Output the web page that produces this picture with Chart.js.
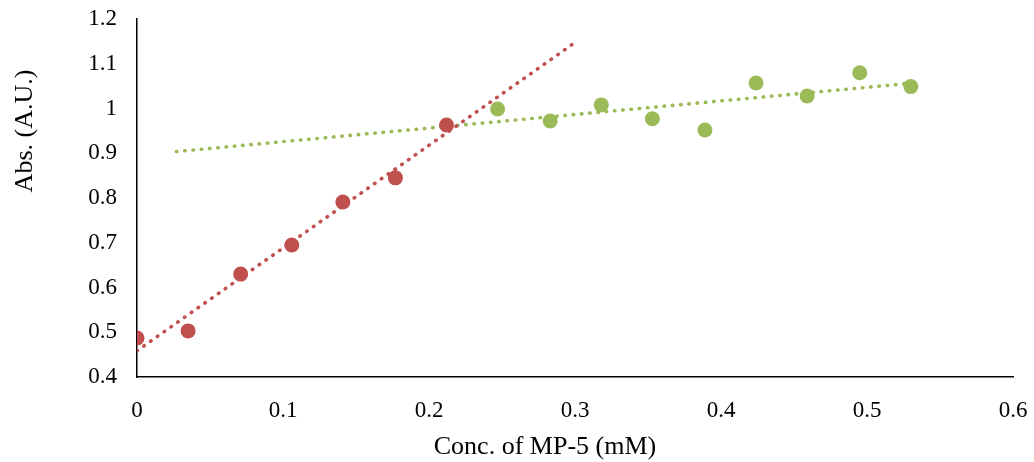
<!DOCTYPE html>
<html>
<head>
<meta charset="utf-8">
<script src="https://cdn.jsdelivr.net/npm/chart.js@4.4.1/dist/chart.umd.min.js"></script>
<style>
  html, body { margin: 0; padding: 0; background: #fff; }
</style>
</head>
<body>
<canvas id="chart" width="1034" height="462"></canvas>
<script>
// MP-5 titration: absorbance before and after the break point
const concBefore = [0, 0.035, 0.071, 0.106, 0.141, 0.177, 0.212];
const absBefore = [0.487, 0.503, 0.630, 0.695, 0.791, 0.845, 0.963];
const concAfter = [0.247, 0.283, 0.318, 0.353, 0.389, 0.424, 0.459, 0.495, 0.530];
const absAfter = [0.999, 0.972, 1.008, 0.977, 0.952, 1.057, 1.028, 1.080, 1.049];

// x range each trendline is drawn over (with forecast)
const fitRangeBefore = [0, 0.301];
const fitRangeAfter = [0.027, 0.53];

const xTicks = [0, 0.1, 0.2, 0.3, 0.4, 0.5, 0.6];
const yTicks = [0.4, 0.5, 0.6, 0.7, 0.8, 0.9, 1.0, 1.1, 1.2];

const RED = '#C0504D';
const GREEN = '#9BBB59';
const FONT = "'Liberation Serif', 'Times New Roman', serif";

// least squares line through the points
function linearFit(xs, ys) {
    const n = xs.length;
    const mx = xs.reduce((a, b) => a + b, 0) / n;
    const my = ys.reduce((a, b) => a + b, 0) / n;
    let sxy = 0, sxx = 0;
    for (let i = 0; i < n; i++) {
        sxy += (xs[i] - mx) * (ys[i] - my);
        sxx += (xs[i] - mx) * (xs[i] - mx);
    }
    const slope = sxy / sxx;
    return { slope, intercept: my - slope * mx };
}

function trendPoints(xs, ys, range) {
    const f = linearFit(xs, ys);
    return range.map(x => ({ x, y: f.intercept + f.slope * x }));
}

const toPoints = (xs, ys) => xs.map((x, i) => ({ x, y: ys[i] }));

// axis titles, placed off-centre like the spreadsheet layout
const axisTitles = {
    id: 'axisTitles',
    afterDraw(chart) {
        const { ctx, chartArea } = chart;
        ctx.save();
        ctx.fillStyle = '#000';
        ctx.font = '26px ' + FONT;
        ctx.textAlign = 'center';
        ctx.textBaseline = 'middle';
        ctx.fillText('Conc. of MP-5 (mM)', chartArea.left + 408, chartArea.bottom + 70);
        ctx.translate(25, chartArea.top + 112);
        ctx.rotate(-Math.PI / 2);
        ctx.fillText('Abs. (A.U.)', 0, 0);
        ctx.restore();
    }
};

const fmt = v => String(+Number(v).toFixed(1));

const trendStyle = {
    type: 'line',
    borderWidth: 3.6,
    borderDash: [0.5, 7.8],
    borderCapStyle: 'round',
    pointRadius: 0,
    fill: false,
};

new Chart(document.getElementById('chart'), {
    type: 'scatter',
    data: {
        datasets: [
            {
                label: 'before',
                data: toPoints(concBefore, absBefore),
                backgroundColor: RED,
                borderColor: RED,
                pointRadius: 7.5,
                pointBorderWidth: 0,
            },
            {
                label: 'after',
                data: toPoints(concAfter, absAfter),
                backgroundColor: GREEN,
                borderColor: GREEN,
                pointRadius: 7.5,
                pointBorderWidth: 0,
            },
            {
                ...trendStyle,
                label: 'trend before',
                data: trendPoints(concBefore, absBefore, fitRangeBefore),
                borderColor: RED,
            },
            {
                ...trendStyle,
                label: 'trend after',
                data: trendPoints(concAfter, absAfter, fitRangeAfter),
                borderColor: GREEN,
            },
        ]
    },
    options: {
        responsive: false,
        animation: false,
        events: [],
        layout: { padding: { left: 0, top: 19, right: 21, bottom: 0 } },
        plugins: {
            legend: { display: false },
            tooltip: { enabled: false },
        },
        scales: {
            x: {
                type: 'linear',
                min: 0,
                max: 0.6,
                afterBuildTicks: scale => { scale.ticks = xTicks.map(v => ({ value: v })); },
                afterFit: scale => {
                    scale.height = 85;
                    scale.paddingLeft = 0;
                    scale.paddingRight = 0;
                },
                grid: { display: false, drawTicks: false },
                border: { display: true, color: '#000', width: 1.5 },
                ticks: {
                    padding: 20,
                    color: '#000',
                    font: { family: FONT, size: 23 },
                    callback: fmt,
                    maxRotation: 0,
                },
            },
            y: {
                type: 'linear',
                min: 0.4,
                max: 1.2,
                afterBuildTicks: scale => { scale.ticks = yTicks.map(v => ({ value: v })); },
                afterFit: scale => {
                    scale.width = 137;
                    scale.paddingTop = 0;
                    scale.paddingBottom = 0;
                },
                grid: { display: false, drawTicks: false },
                border: { display: true, color: '#000', width: 1.5 },
                ticks: {
                    padding: 20,
                    color: '#000',
                    font: { family: FONT, size: 23 },
                    callback: fmt,
                },
            },
        },
    },
    plugins: [axisTitles],
});
</script>
</body>
</html>
